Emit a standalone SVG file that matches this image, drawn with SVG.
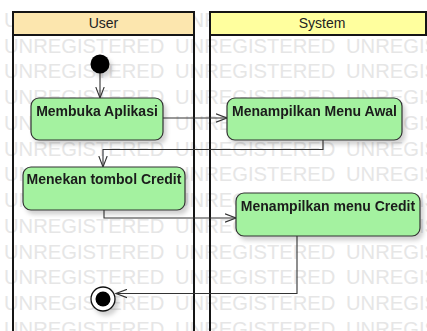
<svg xmlns="http://www.w3.org/2000/svg" width="427" height="331" viewBox="0 0 427 331">
  <style>
    .wm { font-family: "Liberation Sans", Arial, sans-serif; font-size: 20.2px; fill: #e6e6e6; }
    .lane-line { stroke: #151515; stroke-width: 2; fill: none; }
    .hdr-text { font-family: "Liberation Sans", Arial, sans-serif; font-size: 14px; fill: #222; text-anchor: middle; }
    .node rect { fill: #a4f2a0; stroke: #333; stroke-width: 1.2; }
    .node text { font-family: "Liberation Sans", Arial, sans-serif; font-size: 14px; font-weight: bold; fill: #1a1a1a; text-anchor: middle; }
    .conn { stroke: #333; stroke-width: 1.1; fill: none; }
  </style>
  <defs>
    <filter id="shadow" x="-20%" y="-20%" width="150%" height="160%">
      <feDropShadow dx="3" dy="4" stdDeviation="2" flood-color="#000" flood-opacity="0.18"/>
    </filter>
    <marker id="open" viewBox="0 0 12 10" refX="11" refY="5" markerWidth="12" markerHeight="10" markerUnits="userSpaceOnUse" orient="auto">
      <path d="M0,0.8 L11,5 L0,9.2" fill="none" stroke="#333" stroke-width="1.1"/>
    </marker>
  </defs>

  <rect width="427" height="331" fill="#ffffff"/>

  <!-- tiled watermark -->
  <g id="watermark" class="wm">
    <text x="4" y="27">UNREGISTERED</text><text x="175" y="27">UNREGISTERED</text><text x="346" y="27">UNREGISTERED</text>
    <text x="4" y="53">UNREGISTERED</text><text x="175" y="53">UNREGISTERED</text><text x="346" y="53">UNREGISTERED</text>
    <text x="4" y="78">UNREGISTERED</text><text x="175" y="78">UNREGISTERED</text><text x="346" y="78">UNREGISTERED</text>
    <text x="4" y="104">UNREGISTERED</text><text x="175" y="104">UNREGISTERED</text><text x="346" y="104">UNREGISTERED</text>
    <text x="4" y="130">UNREGISTERED</text><text x="175" y="130">UNREGISTERED</text><text x="346" y="130">UNREGISTERED</text>
    <text x="4" y="156">UNREGISTERED</text><text x="175" y="156">UNREGISTERED</text><text x="346" y="156">UNREGISTERED</text>
    <text x="4" y="181">UNREGISTERED</text><text x="175" y="181">UNREGISTERED</text><text x="346" y="181">UNREGISTERED</text>
    <text x="4" y="207">UNREGISTERED</text><text x="175" y="207">UNREGISTERED</text><text x="346" y="207">UNREGISTERED</text>
    <text x="4" y="233">UNREGISTERED</text><text x="175" y="233">UNREGISTERED</text><text x="346" y="233">UNREGISTERED</text>
    <text x="4" y="259">UNREGISTERED</text><text x="175" y="259">UNREGISTERED</text><text x="346" y="259">UNREGISTERED</text>
    <text x="4" y="284">UNREGISTERED</text><text x="175" y="284">UNREGISTERED</text><text x="346" y="284">UNREGISTERED</text>
    <text x="4" y="310">UNREGISTERED</text><text x="175" y="310">UNREGISTERED</text><text x="346" y="310">UNREGISTERED</text>
    <text x="4" y="336">UNREGISTERED</text><text x="175" y="336">UNREGISTERED</text><text x="346" y="336">UNREGISTERED</text>
  </g>

  <!-- swimlanes -->
  <g id="lane-user">
    <rect x="13" y="12" width="181" height="23" fill="#fce6ae" stroke="#151515" stroke-width="2"/>
    <text class="hdr-text" x="103.5" y="28">User</text>
    <line class="lane-line" x1="13" y1="35" x2="13" y2="331"/>
    <line class="lane-line" x1="194" y1="35" x2="194" y2="331"/>
  </g>
  <g id="lane-system">
    <rect x="210" y="12" width="216" height="23" fill="#ffff9e" stroke="#151515" stroke-width="2"/>
    <text class="hdr-text" x="322" y="28">System</text>
    <line class="lane-line" x1="210" y1="35" x2="210" y2="331"/>
  </g>

  <!-- connectors -->
  <g id="connectors">
    <path class="conn" d="M100,73 L100,98" marker-end="url(#open)"/>
    <path class="conn" d="M163,118 L227,118" marker-end="url(#open)"/>
    <path class="conn" d="M323,140 L323,149.5 L103,149.5 L103,167" marker-end="url(#open)"/>
    <path class="conn" d="M104,210 L104,218 L236,218" marker-end="url(#open)"/>
    <path class="conn" d="M297,236 L297,293.5 L116,293.5" marker-end="url(#open)"/>
  </g>

  <!-- nodes -->
  <g id="start" filter="url(#shadow)">
    <circle cx="100" cy="64" r="9.5" fill="#000"/>
  </g>

  <g id="membuka-aplikasi" class="node" filter="url(#shadow)">
    <rect x="31" y="98" width="132" height="42" rx="8"/>
    <text x="97" y="116">Membuka Aplikasi</text>
  </g>

  <g id="menampilkan-menu-awal" class="node" filter="url(#shadow)">
    <rect x="227" y="98" width="175" height="42" rx="8"/>
    <text x="314.5" y="116">Menampilkan Menu Awal</text>
  </g>

  <g id="menekan-tombol-credit" class="node" filter="url(#shadow)">
    <rect x="23" y="167" width="162" height="43" rx="8"/>
    <text x="104" y="184">Menekan tombol Credit</text>
  </g>

  <g id="menampilkan-menu-credit" class="node" filter="url(#shadow)">
    <rect x="236" y="193" width="184" height="43" rx="8"/>
    <text x="328" y="211">Menampilkan menu Credit</text>
  </g>

  <g id="end" filter="url(#shadow)">
    <circle cx="103" cy="299" r="12" fill="#fff" stroke="#111" stroke-width="1.3"/>
    <circle cx="103" cy="299" r="7.5" fill="#000"/>
  </g>
</svg>
